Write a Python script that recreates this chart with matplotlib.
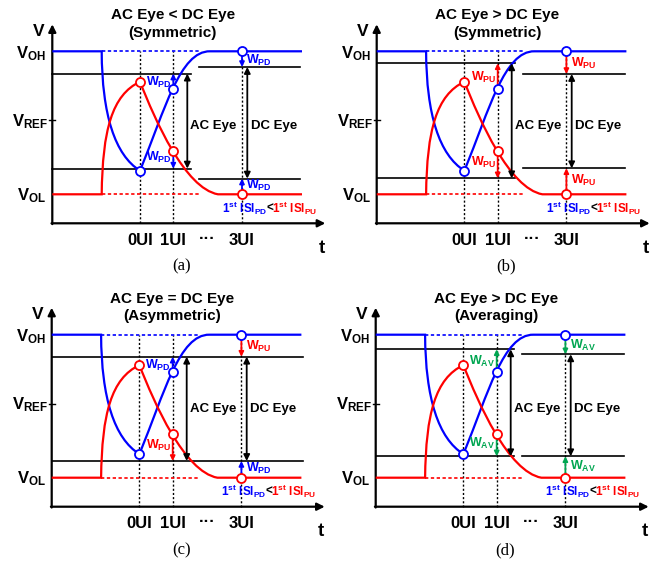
import matplotlib
matplotlib.use('Agg')
import matplotlib.pyplot as plt
from matplotlib.path import Path
from matplotlib.patches import PathPatch

plt.rcParams['font.family'] = ['Liberation Sans', 'DejaVu Sans']
plt.rcParams['font.weight'] = 'bold'
plt.rcParams['mathtext.fontset'] = 'custom'
plt.rcParams['mathtext.rm'] = 'Liberation Sans:bold'
plt.rcParams['mathtext.bf'] = 'Liberation Sans:bold'
plt.rcParams['mathtext.it'] = 'Liberation Sans:bold'

BLUE = '#0000ff'
RED = '#ff0000'
GREEN = '#00a651'
W_COLOR = {'PD': BLUE, 'PU': RED, 'AV': GREEN}

# levels in px above the t axis, times in px right of the V axis
v_oh, v_ref, v_ol = 172.0, 103.0, 29.0
ui_pos = [87.7, 121.0, 189.7]          # 0UI, 1UI, 3UI
ui_labels = ['0UI', '1UI', '3UI']
t_end = 249.7

# pull-down (blue) and pull-up (red) waveforms: bezier control points
blue_verts = [(0, 172), (49.4, 172), (49.7, 108.3), (62.7, 68.3), (87.7, 52.6),
              (112.7, 114), (127.7, 172.3), (157.7, 172), (t_end, 172)]
red_verts = [(0, 29), (49.4, 29), (50.2, 93.3), (59.7, 128.3), (87.7, 141.6),
             (102.7, 103.3), (132.7, 35), (165.7, 29), (t_end, 29)]
curve_codes = [Path.MOVETO, Path.LINETO] + [Path.CURVE4] * 6 + [Path.LINETO]

blue_marks = [(87.7, 52.6), (121.0, 134.5), (189.7, 172)]
red_marks = [(87.7, 141.6), (121.0, 72.3), (189.7, 29)]

titles = ['AC Eye < DC Eye', 'AC Eye > DC Eye', 'AC Eye = DC Eye', 'AC Eye > DC Eye']
subtitles = ['(Symmetric)', '(Symmetric)', '(Asymmetric)', '(Averaging)']
tags = ['(a)', '(b)', '(c)', '(d)']

ac_top = [149.7, 160.0, 150.0, 157.4]
ac_bot = [54.7, 45.0, 45.7, 50.4]
dc_top = [156.3, 149.3, 150.0, 152.4]
dc_bot = [44.7, 55.0, 45.7, 50.4]

w_1ui_top = ['PD', 'PU', 'PD', 'AV']
w_1ui_bot = ['PD', 'PU', 'PU', 'AV']
w_3ui_top = ['PD', 'PU', 'PU', 'AV']
w_3ui_bot = ['PD', 'PU', 'PD', 'AV']

# panel box (left, top) in figure px and axis origin in figure px
boxes = [(0, 0), (335, 0), (0, 285), (335, 285)]
origins = [(52.3, 223.3), (376.7, 223.3), (51.7, 506.7), (375.7, 506.7)]

fig = plt.figure(figsize=(6.7, 5.7), dpi=100)


def arrow(ax, x, y0, y1, color, style='-|>', ms=7, lw=1.3):
    ax.annotate('', xy=(x, y1), xytext=(x, y0),
                arrowprops=dict(arrowstyle=style, color=color, lw=lw,
                                mutation_scale=ms, shrinkA=0, shrinkB=0),
                zorder=4)


def wlabel(ax, x, y, sub, ha):
    ax.text(x, y, r'$\mathrm{W}_{\mathrm{%s}}$' % sub, color=W_COLOR[sub],
            fontsize=9, ha=ha, va='center', zorder=6)


for i in range(4):
    px, py = boxes[i]
    x0, y0 = origins[i]
    ax = fig.add_axes([px / 670, 1 - (py + 285) / 570, 335 / 670, 285 / 570])
    ax.set_xlim(px - x0, px + 335 - x0)
    ax.set_ylim(y0 - (py + 285), y0 - py)
    ax.axis('off')

    # axes
    ax.annotate('', xy=(0, 199), xytext=(0, -0.8),
                arrowprops=dict(arrowstyle='-|>', color='black', lw=1.6,
                                mutation_scale=11, shrinkA=0, shrinkB=0))
    ax.annotate('', xy=(273, 0), xytext=(-0.8, 0),
                arrowprops=dict(arrowstyle='-|>', color='black', lw=1.6,
                                mutation_scale=11, shrinkA=0, shrinkB=0))
    ax.plot([-3, 3], [v_ref, v_ref], color='black', lw=1)

    ax.text(-14, 192, 'V', fontsize=12.5, ha='center', va='center')
    ax.text(-6, v_oh - 2, r'$\mathrm{V}_{\mathrm{OH}}$', fontsize=12, ha='right', va='center')
    ax.text(-4, v_ref - 1, r'$\mathrm{V}_{\mathrm{REF}}$', fontsize=12, ha='right', va='center')
    ax.text(-6, v_ol - 1, r'$\mathrm{V}_{\mathrm{OL}}$', fontsize=12, ha='right', va='center')

    for u, lab in zip(ui_pos, ui_labels):
        ax.plot([u, u], [0, v_oh], color='black', lw=1, ls=(0, (1.5, 1.5)), zorder=1)
        ax.text(u, -17, lab, fontsize=12, ha='center', va='center')
    ax.text((ui_pos[1] + ui_pos[2]) / 2, -15, '···', fontsize=12, ha='center', va='center')
    ax.text(269.5, -25, 't', fontsize=13.5, ha='center', va='center')
    ax.text(129.5, -43.5, tags[i], fontsize=12, ha='center', va='center',
            family='Liberation Serif', fontweight='normal')

    ax.text(120.5, 208, titles[i], fontsize=11, ha='center', va='center')
    ax.text(120.5, 190.5, subtitles[i], fontsize=11, ha='center', va='center')

    # reference levels left from the settled waveform
    ax.plot([49.4, 148], [v_oh, v_oh], color=BLUE, lw=1.2, ls=(0, (2, 1.5)), zorder=2)
    ax.plot([49.4, 148], [v_ol, v_ol], color=RED, lw=1.2, ls=(0, (2, 1.5)), zorder=2)

    # eye boundaries
    if ac_top[i] == dc_top[i] and ac_bot[i] == dc_bot[i]:
        ax.plot([0, 251.5], [ac_top[i]] * 2, color='black', lw=1.2, zorder=2)
        ax.plot([0, 251.5], [ac_bot[i]] * 2, color='black', lw=1.2, zorder=2)
    else:
        ax.plot([0, 138.5], [ac_top[i]] * 2, color='black', lw=1.2, zorder=2)
        ax.plot([0, 138.5], [ac_bot[i]] * 2, color='black', lw=1.2, zorder=2)
        ax.plot([146.5, 248], [dc_top[i]] * 2, color='black', lw=1.2, zorder=2)
        ax.plot([146.5, 248], [dc_bot[i]] * 2, color='black', lw=1.2, zorder=2)
    arrow(ax, 135, ac_bot[i], ac_top[i], 'black', style='<|-|>', ms=9)
    arrow(ax, 195, dc_bot[i], dc_top[i], 'black', style='<|-|>', ms=9)
    ax.text(161, 97.5, 'AC Eye', fontsize=9.5, ha='center', va='center')
    ax.text(221.5, 97.5, 'DC Eye', fontsize=9.5, ha='center', va='center')

    # waveforms
    ax.add_patch(PathPatch(Path(blue_verts, curve_codes), fill=False,
                           edgecolor=BLUE, lw=1.6, zorder=3, capstyle='butt'))
    ax.add_patch(PathPatch(Path(red_verts, curve_codes), fill=False,
                           edgecolor=RED, lw=1.6, zorder=3, capstyle='butt'))

    # equalizer shifts
    u1, u3 = ui_pos[1], ui_pos[2]
    s = w_1ui_top[i]
    arrow(ax, u1, blue_marks[1][1] + 4, ac_top[i], W_COLOR[s])
    wlabel(ax, u1 - 1.5, (blue_marks[1][1] + ac_top[i]) / 2 - 1, s, 'right')
    s = w_1ui_bot[i]
    arrow(ax, u1, red_marks[1][1] - 4, ac_bot[i], W_COLOR[s])
    wlabel(ax, u1 - 1.5, (red_marks[1][1] + ac_bot[i]) / 2 + 2, s, 'right')
    s = w_3ui_top[i]
    arrow(ax, u3, v_oh - 4.5, dc_top[i], W_COLOR[s])
    wlabel(ax, u3 + 4.5, (v_oh + dc_top[i]) / 2 - 1, s, 'left')
    s = w_3ui_bot[i]
    arrow(ax, u3, v_ol + 4.5, dc_bot[i], W_COLOR[s])
    wlabel(ax, u3 + 4.5, (v_ol + dc_bot[i]) / 2 + 1, s, 'left')

    # sampled points
    ax.plot([p[0] for p in blue_marks], [p[1] for p in blue_marks], 'o', ms=6.5,
            mfc='white', mec=BLUE, mew=1.3, zorder=5)
    ax.plot([p[0] for p in red_marks], [p[1] for p in red_marks], 'o', ms=6.5,
            mfc='white', mec=RED, mew=1.3, zorder=5)

    ax.text(215, 15, r'$1^{\mathrm{st}}\ \mathrm{ISI}_{\mathrm{PD}}$', color=BLUE,
            fontsize=8.5, ha='right', va='center')
    ax.text(217.2, 15, '<', color='black', fontsize=8.5, ha='center', va='center')
    ax.text(219.4, 15, r'$1^{\mathrm{st}}\ \mathrm{ISI}_{\mathrm{PU}}$', color=RED,
            fontsize=8.5, ha='left', va='center')

fig.savefig('out.png', dpi=100, facecolor='white')
